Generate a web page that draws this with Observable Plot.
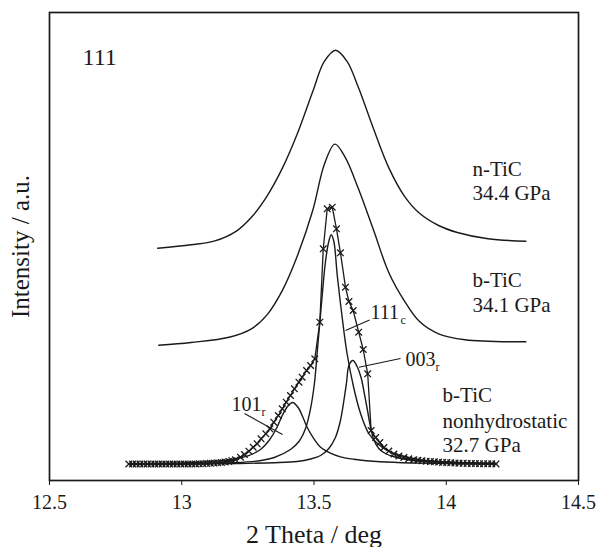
<!DOCTYPE html>
<html><head><meta charset="utf-8">
<script src="https://cdn.jsdelivr.net/npm/d3@7"></script>
<script src="https://cdn.jsdelivr.net/npm/@observablehq/plot@0.6"></script>
<style>
html,body{margin:0;padding:0;background:#fff;}
#chart svg{display:block;}
</style></head><body><div id="chart"></div>
<script>
// n-TiC 34.4 GPa (offset profile)
const nTiC_x = [12.909, 13.035, 13.122, 13.208, 13.265, 13.323, 13.381, 13.438, 13.496, 13.539, 13.582, 13.625, 13.668, 13.726, 13.783, 13.841, 13.899, 13.971, 14.042, 14.158, 14.301];
const nTiC_y = [232.3, 235.8, 239.3, 249.7, 263.7, 284.7, 312.6, 347.5, 389.5, 419.1, 430.3, 419.1, 392.9, 351.0, 312.6, 284.7, 267.2, 255.0, 248.0, 241.7, 239.3];
// b-TiC 34.1 GPa (offset profile)
const bTiC_x = [12.913, 13.035, 13.179, 13.265, 13.323, 13.381, 13.438, 13.496, 13.539, 13.579, 13.618, 13.668, 13.726, 13.783, 13.841, 13.899, 13.971, 14.071, 14.301];
const bTiC_y = [135.2, 138.0, 143.2, 151.9, 165.9, 190.4, 225.3, 270.7, 316.1, 336.4, 323.1, 291.7, 249.7, 207.8, 179.9, 158.9, 146.7, 140.8, 138.7];
// b-TiC nonhydrostatic 32.7 GPa : observed points (x markers)
const obs_x = [12.800, 12.814, 12.828, 12.842, 12.856, 12.870, 12.884, 12.898, 12.912, 12.926, 12.940, 12.954, 12.968, 12.982, 12.996, 13.010, 13.024, 13.038, 13.052, 13.066, 13.080, 13.094, 13.108, 13.122, 13.136, 13.150, 13.164, 13.178, 13.190, 13.203, 13.222, 13.237, 13.254, 13.270, 13.285, 13.300, 13.318, 13.333, 13.348, 13.365, 13.380, 13.395, 13.411, 13.426, 13.443, 13.455, 13.472, 13.487, 13.503, 13.522, 13.535, 13.550, 13.569, 13.585, 13.600, 13.619, 13.632, 13.648, 13.669, 13.686, 13.703, 13.716, 13.733, 13.749, 13.764, 13.783, 13.802, 13.821, 13.840, 13.858, 13.877, 13.893, 13.908, 13.924, 13.940, 13.955, 13.971, 13.986, 14.002, 14.017, 14.033, 14.048, 14.064, 14.079, 14.095, 14.110, 14.126, 14.141, 14.157, 14.172, 14.188];
const obs_y = [16.5, 16.5, 16.5, 16.5, 16.5, 16.5, 16.5, 16.5, 16.5, 16.5, 16.5, 16.5, 16.5, 16.5, 16.5, 16.5, 16.5, 16.5, 16.5, 16.7, 16.8, 17.0, 17.2, 17.4, 17.7, 18.0, 18.5, 19.1, 19.8, 20.7, 23.3, 26.0, 29.3, 33.3, 36.7, 41.7, 46.7, 51.7, 58.3, 65.0, 71.7, 78.3, 85.0, 91.7, 98.3, 103.3, 110.0, 115.0, 121.7, 158.3, 231.7, 271.7, 273.3, 251.7, 227.7, 193.3, 179.0, 170.0, 148.3, 131.0, 106.7, 50.0, 43.0, 38.0, 33.0, 29.5, 26.5, 24.5, 23.0, 21.7, 20.7, 20.2, 19.7, 19.3, 19.0, 18.7, 18.4, 18.1, 17.9, 17.7, 17.5, 17.3, 17.2, 17.1, 17.0, 16.9, 16.8, 16.8, 16.7, 16.7, 16.6];
// fitted components
const c111_x = [12.80, 13.00, 13.10, 13.20, 13.30, 13.35, 13.411, 13.443, 13.468, 13.487, 13.502, 13.512, 13.522, 13.531, 13.543, 13.555, 13.565, 13.575, 13.588, 13.607, 13.625, 13.650, 13.676, 13.707, 13.740, 13.777, 13.830, 13.903, 14.000, 14.100, 14.190];
const c111_y = [16.2, 16.6, 17.0, 17.8, 20.0, 23.0, 31.0, 39.0, 52.0, 72.0, 98.0, 128.0, 158.0, 185.0, 218.0, 238.0, 245.7, 239.0, 205.0, 162.0, 127.0, 93.0, 67.0, 47.0, 37.0, 30.0, 25.0, 20.5, 18.5, 17.5, 17.0];
const c101_x = [12.80, 12.90, 13.00, 13.10, 13.20, 13.25, 13.272, 13.30, 13.33, 13.36, 13.38, 13.40, 13.419, 13.44, 13.46, 13.474, 13.50, 13.525, 13.56, 13.60, 13.65, 13.75, 13.90, 14.05, 14.19];
const c101_y = [16.7, 17.0, 17.6, 18.7, 21.5, 24.6, 27.0, 31.5, 40.0, 53.0, 65.0, 74.0, 78.0, 73.0, 62.0, 53.3, 41.6, 33.3, 27.7, 23.7, 21.3, 18.7, 17.4, 16.8, 16.5];
const c003_x = [12.80, 13.00, 13.20, 13.35, 13.436, 13.487, 13.525, 13.556, 13.581, 13.600, 13.613, 13.623, 13.632, 13.647, 13.663, 13.678, 13.691, 13.703, 13.714, 13.727, 13.745, 13.770, 13.800, 13.850, 13.900, 14.000, 14.100, 14.190];
const c003_y = [16.3, 16.5, 17.0, 17.8, 19.0, 21.5, 25.0, 32.0, 43.0, 60.0, 80.0, 98.0, 115.0, 120.0, 114.0, 103.0, 86.0, 69.0, 53.0, 40.0, 32.0, 27.0, 24.0, 21.0, 19.5, 18.0, 17.2, 16.8];
// x ticks
const xTicks = [12.5, 13, 13.5, 14, 14.5];
// annotations (data coordinates)
const labels = ["111", "n-TiC", "34.4 GPa", "b-TiC", "34.1 GPa", "b-TiC", "nonhydrostatic", "32.7 GPa"];
const label_x = [12.625, 14.099, 14.099, 14.099, 14.099, 13.986, 13.986, 13.986];
const label_y = [416, 305, 281, 194, 169, 79, 53, 29];
const peakNames = ["111", "003", "101"];
const peakSubs = ["c", "r", "r"];
const peak_x = [13.714, 13.846, 13.188];
const peak_y = [162, 115, 70];
const lead_x1 = [13.619, 13.670, 13.237];
const lead_y1 = [150, 113.3, 67];
const lead_x2 = [13.710, 13.827, 13.381];
const lead_y2 = [160.4, 122, 46];

const zip = (xs, ys) => xs.map((x, i) => ({x, y: ys[i]}));
const ink = "#1a1a1a";
const font = "Liberation Serif";

const curves = [zip(nTiC_x, nTiC_y), zip(bTiC_x, bTiC_y), zip(c111_x, c111_y), zip(c101_x, c101_y), zip(c003_x, c003_y)];
const obs = zip(obs_x, obs_y);
const lab = labels.map((t, i) => ({t, x: label_x[i], y: label_y[i]}));
const pk = peakNames.map((t, i) => ({t, s: peakSubs[i], x: peak_x[i], y: peak_y[i]}));
const leads = lead_x1.map((x1, i) => ({x1, y1: lead_y1[i], x2: lead_x2[i], y2: lead_y2[i]}));
const txt = {fontFamily: font, fill: ink, textAnchor: "start", lineAnchor: "bottom"};

const chart = Plot.plot({
  width: 597, height: 547,
  marginLeft: 49, marginRight: 19, marginTop: 12, marginBottom: 67,
  style: {fontFamily: font, color: ink, background: "#fff"},
  x: {domain: [12.5, 14.5], axis: null},
  y: {domain: [0, 468], axis: null},
  marks: [
    ...curves.map(c => Plot.line(c, {x: "x", y: "y", curve: "catmull-rom", stroke: ink, strokeWidth: 1.4})),
    Plot.line(obs, {x: "x", y: "y", stroke: ink, strokeWidth: 1.3}),
    Plot.dot(obs, {x: "x", y: "y", symbol: "times", r: 3.1, stroke: ink, strokeWidth: 1.3}),
    Plot.link(leads, {x1: "x1", y1: "y1", x2: "x2", y2: "y2", stroke: ink, strokeWidth: 1.1}),
    Plot.text(lab.slice(0, 1), {...txt, x: "x", y: "y", text: "t", fontSize: 24}),
    Plot.text(lab.slice(1), {...txt, x: "x", y: "y", text: "t", fontSize: 21}),
    Plot.text(pk, {...txt, x: "x", y: "y", text: "t", fontSize: 20}),
    Plot.text(pk, {...txt, x: "x", y: "y", text: "s", fontSize: 12, dx: 30, dy: 5}),
    Plot.frame({stroke: ink, strokeWidth: 1.7}),
    Plot.axisX({ticks: xTicks, tickSize: 5, tickPadding: 9, fontSize: 20, fontFamily: font, tickFormat: d => String(d), label: null, stroke: ink, fill: ink}),
    Plot.text(["Intensity / a.u."], {frameAnchor: "left", textAnchor: "middle", lineAnchor: "middle", rotate: -90, dx: -29, fontSize: 25, fontFamily: font, fill: ink}),
    Plot.text(["2 Theta / deg"], {frameAnchor: "bottom", textAnchor: "middle", dy: 62, lineAnchor: "bottom", fontSize: 26, fontFamily: font, fill: ink})
  ]
});
document.getElementById("chart").append(chart);
</script></body></html>
